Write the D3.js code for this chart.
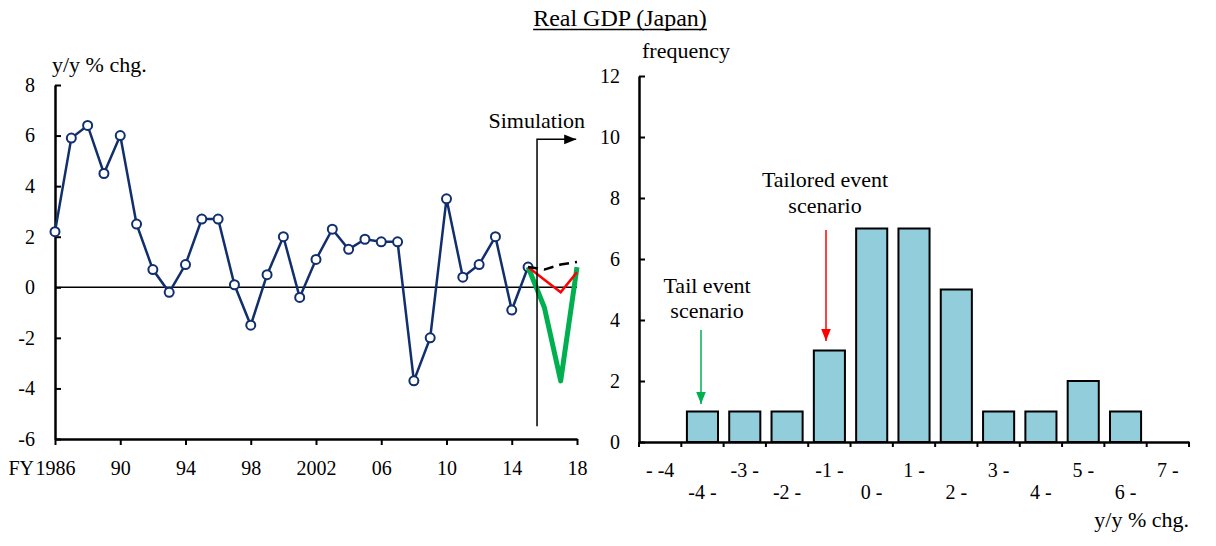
<!DOCTYPE html>
<html lang="en">
<head>
    <meta charset="UTF-8">
    <title>Real GDP (Japan)</title>
    <script src="https://d3js.org/d3.v7.min.js"></script>
    <style>
        body {
            margin: 0;
            background: white;
        }

        text {
            font-family: "Liberation Serif", "Times New Roman", serif;
            fill: black;
        }

        .tick text {
            font-size: 20px;
        }

        .texto {
            font-size: 22px;
        }
    </style>
</head>
<body>
<svg width="1216" height="546"></svg>

<script type="application/javascript">

    // left panel: real GDP growth, FY1986-2015
    const years = [1986, 1987, 1988, 1989, 1990, 1991, 1992, 1993, 1994, 1995,
        1996, 1997, 1998, 1999, 2000, 2001, 2002, 2003, 2004, 2005,
        2006, 2007, 2008, 2009, 2010, 2011, 2012, 2013, 2014, 2015]
    const gdp = [2.2, 5.9, 6.4, 4.5, 6.0, 2.5, 0.7, -0.2, 0.9, 2.7,
        2.7, 0.1, -1.5, 0.5, 2.0, -0.4, 1.1, 2.3, 1.5, 1.9,
        1.8, 1.8, -3.7, -2.0, 3.5, 0.4, 0.9, 2.0, -0.9, 0.8]

    // simulation paths
    const simYears = [2015, 2016, 2017, 2018]
    const baseline = [0.8, 0.7, 0.9, 1.0]
    const tailored = [0.8, 0.3, -0.2, 0.6]
    const tailEvent = [0.8, -0.8, -3.7, 0.8]

    const yearTicks = [1986, 1990, 1994, 1998, 2002, 2006, 2010, 2014, 2018]
    const yearLabels = ["1986", "90", "94", "98", "2002", "06", "10", "14", "18"]
    const gdpTicks = [-6, -4, -2, 0, 2, 4, 6, 8]

    // right panel: histogram
    const bins = ["- -4", "-4 -", "-3 -", "-2 -", "-1 -", "0 -", "1 -", "2 -", "3 -", "4 -", "5 -", "6 -", "7 -"]
    const freq = [0, 1, 1, 1, 3, 7, 7, 5, 1, 1, 2, 1, 0]
    const freqTicks = [0, 2, 4, 6, 8, 10, 12]

    const svg = d3.select("svg")

    const navy = "#112f6c"
    const green = "#00b050"
    const red = "#ff0000"

    // plain hyphen instead of d3's unicode minus
    const simple = function (d) {
        return String(d)
    }

    // arrow heads
    const defs = svg.append("defs")
    const marcas = [["arrowBlack", "black"], ["arrowGreen", green], ["arrowRed", red]]
    marcas.forEach(function (m) {
        defs.append("marker")
            .attr("id", m[0])
            .attr("viewBox", "0 0 10 10")
            .attr("refX", 10)
            .attr("refY", 5)
            .attr("markerUnits", "userSpaceOnUse")
            .attr("markerWidth", 12)
            .attr("markerHeight", 12)
            .attr("orient", "auto")
            .append("path")
            .attr("d", "M0,1 L10,5 L0,9 Z")
            .attr("fill", m[1])
    })

    // title
    const titulo = svg.append("text")
        .attr("x", 620)
        .attr("y", 26)
        .attr("text-anchor", "middle")
        .style("font-size", "24px")
        .text("Real GDP (Japan)")
    const tb = titulo.node().getBBox()
    svg.append("line")
        .attr("x1", tb.x)
        .attr("x2", tb.x + tb.width)
        .attr("y1", 29.5)
        .attr("y2", 29.5)
        .attr("stroke", "black")
        .attr("stroke-width", 1.5)

    // ---------- left chart ----------
    const x = d3.scaleLinear().domain([1986, 2018]).range([55, 577])
    const y = d3.scaleLinear().domain([-6, 8]).range([439, 85])

    const ejeY = svg.append("g")
        .attr("transform", "translate(55,0)")
        .call(d3.axisLeft(y).tickValues(gdpTicks).tickFormat(simple)
            .tickSize(-6).tickSizeOuter(0).tickPadding(20))
    ejeY.selectAll("path, line").attr("stroke", "black").attr("stroke-width", 2)
    ejeY.select(".domain").attr("stroke-width", 2.5)

    const ejeX = svg.append("g")
        .attr("transform", "translate(0,439)")
        .call(d3.axisBottom(x).tickValues(yearTicks).tickSize(6).tickSizeOuter(0).tickPadding(16)
            .tickFormat(function (d, i) {
                return yearLabels[i]
            }))
    ejeX.selectAll("path, line").attr("stroke", "black").attr("stroke-width", 2)
    ejeX.select(".domain").attr("stroke-width", 2.5)
    svg.selectAll(".tick text").style("font-family", "'Liberation Serif', serif")

    svg.append("text")
        .attr("x", 34)
        .attr("y", 475)
        .attr("text-anchor", "end")
        .style("font-size", "20px")
        .text("FY")

    svg.append("text")
        .attr("class", "texto")
        .attr("x", 52)
        .attr("y", 72)
        .text("y/y % chg.")

    // zero line
    svg.append("line")
        .attr("x1", x(1986))
        .attr("x2", x(2018))
        .attr("y1", y(0))
        .attr("y2", y(0))
        .attr("stroke", "black")
        .attr("stroke-width", 1.5)

    const linea = d3.line()
        .x(function (d) {
            return x(d[0])
        })
        .y(function (d) {
            return y(d[1])
        })

    const pares = years.map(function (a, i) {
        return [a, gdp[i]]
    })

    svg.append("path")
        .datum(pares)
        .attr("d", linea)
        .attr("fill", "none")
        .attr("stroke", navy)
        .attr("stroke-width", 2.5)

    svg.selectAll("circle.gdp")
        .data(pares)
        .enter()
        .append("circle")
        .attr("class", "gdp")
        .attr("cx", function (d) {
            return x(d[0])
        })
        .attr("cy", function (d) {
            return y(d[1])
        })
        .attr("r", 4.5)
        .attr("fill", "white")
        .attr("stroke", navy)
        .attr("stroke-width", 2)

    function simPares(vals) {
        return simYears.map(function (a, i) {
            return [a, vals[i]]
        })
    }

    // simulation lines
    svg.append("path")
        .datum(simPares(tailEvent))
        .attr("d", linea)
        .attr("fill", "none")
        .attr("stroke", green)
        .attr("stroke-width", 5)
        .attr("stroke-linejoin", "round")

    svg.append("path")
        .datum(simPares(tailored))
        .attr("d", linea)
        .attr("fill", "none")
        .attr("stroke", red)
        .attr("stroke-width", 2.5)

    svg.append("path")
        .datum(simPares(baseline))
        .attr("d", linea)
        .attr("fill", "none")
        .attr("stroke", "black")
        .attr("stroke-width", 2.5)
        .attr("stroke-dasharray", "10,6")

    // simulation marker
    svg.append("path")
        .attr("d", "M" + x(2015.55) + "," + y(-5.5) + " V" + y(5.85) + " H" + x(2017.95))
        .attr("fill", "none")
        .attr("stroke", "black")
        .attr("stroke-width", 1.5)
        .attr("marker-end", "url(#arrowBlack)")

    svg.append("text")
        .attr("class", "texto")
        .attr("x", 585)
        .attr("y", 128)
        .attr("text-anchor", "end")
        .text("Simulation")

    // ---------- right chart ----------
    const xb = d3.scaleBand().domain(bins).range([639, 1189]).paddingInner(0.265).paddingOuter(0.1325)
    const yb = d3.scaleLinear().domain([0, 12]).range([442, 76])

    svg.selectAll("rect")
        .data(freq)
        .enter()
        .append("rect")
        .attr("x", function (d, i) {
            return xb(bins[i])
        })
        .attr("width", xb.bandwidth())
        .attr("y", function (d) {
            return yb(d)
        })
        .attr("height", function (d) {
            return yb(0) - yb(d)
        })
        .attr("fill", "#92cddc")
        .attr("stroke", "black")
        .attr("stroke-width", 2)
        .style("display", function (d) {
            return d > 0 ? null : "none"
        })

    const ejeYb = svg.append("g")
        .attr("transform", "translate(639,0)")
        .call(d3.axisLeft(yb).tickValues(freqTicks).tickFormat(simple)
            .tickSize(-6).tickSizeOuter(0).tickPadding(19))
    ejeYb.selectAll("path, line").attr("stroke", "black").attr("stroke-width", 2)
    ejeYb.select(".domain").attr("stroke-width", 2.5)

    const ejeXb = svg.append("g")
        .attr("transform", "translate(0,442)")
        .call(d3.axisBottom(xb).tickSize(0).tickSizeOuter(0).tickPadding(0))
    ejeXb.select(".domain").attr("stroke", "black").attr("stroke-width", 2.5)
    ejeXb.selectAll(".tick text")
        .attr("dy", null)
        .attr("y", function (d, i) {
            return i % 2 === 0 ? 35 : 57
        })

    // tick marks between the bins
    const bordes = bins.map(function (b) {
        return xb(b) - xb.step() * xb.paddingInner() / 2
    })
    bordes.push(xb.range()[1])
    ejeXb.selectAll("line.borde")
        .data(bordes)
        .enter()
        .append("line")
        .attr("class", "borde")
        .attr("x1", function (d) {
            return d
        })
        .attr("x2", function (d) {
            return d
        })
        .attr("y1", 0)
        .attr("y2", 5)
        .attr("stroke", "black")
        .attr("stroke-width", 2)

    svg.append("text")
        .attr("class", "texto")
        .attr("x", 642)
        .attr("y", 58)
        .text("frequency")

    svg.append("text")
        .attr("class", "texto")
        .attr("x", 1189)
        .attr("y", 527)
        .attr("text-anchor", "end")
        .text("y/y % chg.")

    // annotations
    svg.append("text")
        .attr("class", "texto")
        .attr("x", 707)
        .attr("y", 293)
        .attr("text-anchor", "middle")
        .text("Tail event")
    svg.append("text")
        .attr("class", "texto")
        .attr("x", 707)
        .attr("y", 318)
        .attr("text-anchor", "middle")
        .text("scenario")
    svg.append("line")
        .attr("x1", 701)
        .attr("x2", 701)
        .attr("y1", 330)
        .attr("y2", 404)
        .attr("stroke", green)
        .attr("stroke-width", 1.5)
        .attr("marker-end", "url(#arrowGreen)")

    svg.append("text")
        .attr("class", "texto")
        .attr("x", 825)
        .attr("y", 187)
        .attr("text-anchor", "middle")
        .text("Tailored event")
    svg.append("text")
        .attr("class", "texto")
        .attr("x", 825)
        .attr("y", 213)
        .attr("text-anchor", "middle")
        .text("scenario")
    svg.append("line")
        .attr("x1", 826)
        .attr("x2", 826)
        .attr("y1", 230)
        .attr("y2", 341)
        .attr("stroke", red)
        .attr("stroke-width", 1.5)
        .attr("marker-end", "url(#arrowRed)")

</script>
</body>
</html>
